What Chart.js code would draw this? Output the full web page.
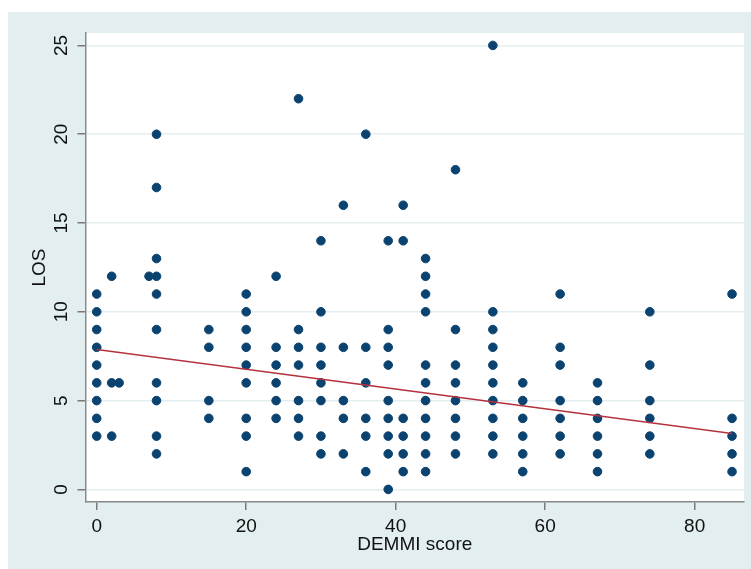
<!DOCTYPE html>
<html>
<head>
<meta charset="utf-8">
<script src="https://cdn.jsdelivr.net/npm/chart.js@4.4.1/dist/chart.umd.min.js"></script>
<style>
  html, body { margin: 0; padding: 0; background: #fff; }
  #wrap { width: 751px; height: 569px; }
</style>
</head>
<body>
<div id="wrap"><canvas id="los"></canvas></div>
<script>
// DEMMI score columns and the LOS values seen in each column
var demmiScores = [0, 2, 3, 7, 8, 15, 20, 24, 27, 30, 33, 36, 39, 41, 44, 48, 53, 57, 62, 67, 74, 85];
var losByScore = [
  [11, 10, 9, 8, 7, 6, 5, 4, 3],
  [12, 6, 3],
  [6],
  [12],
  [20, 17, 13, 12, 11, 9, 6, 5, 3, 2],
  [9, 8, 5, 4],
  [11, 10, 9, 8, 7, 6, 4, 3, 1],
  [12, 8, 7, 6, 5, 4],
  [22, 9, 8, 7, 5, 4, 3],
  [14, 10, 8, 7, 6, 5, 3, 2],
  [16, 8, 5, 4, 2],
  [20, 8, 6, 4, 3, 1],
  [14, 9, 8, 7, 5, 4, 3, 2, 0],
  [16, 14, 4, 3, 2, 1],
  [13, 12, 11, 10, 7, 6, 5, 4, 3, 2, 1],
  [18, 9, 7, 6, 5, 4, 3, 2],
  [25, 10, 9, 8, 7, 6, 5, 4, 3, 2],
  [6, 5, 4, 3, 2, 1],
  [11, 8, 7, 5, 4, 3, 2],
  [6, 5, 4, 3, 2, 1],
  [10, 7, 5, 4, 3, 2],
  [11, 4, 3, 2, 1]
];
// fitted line ends
var fitX = [0, 85];
var fitY = [7.88, 3.15];
var xTicks = [0, 20, 40, 60, 80];
var yTicks = [0, 5, 10, 15, 20, 25];

var points = [];
demmiScores.forEach(function (s, i) {
  losByScore[i].forEach(function (v) { points.push({ x: s, y: v }); });
});
var fitPoints = fitX.map(function (x, i) { return { x: x, y: fitY[i] }; });

var bgPlugin = {
  id: 'stataBg',
  beforeDraw: function (chart) {
    var c = chart.ctx, a = chart.chartArea;
    c.save();
    c.fillStyle = '#ffffff';
    c.fillRect(0, 0, chart.width, chart.height);
    c.fillStyle = '#e2eef0';
    c.fillRect(8, 12, chart.width - 8, chart.height - 12);
    c.fillStyle = '#ffffff';
    c.fillRect(a.left, a.top, a.right - a.left, a.bottom - a.top);
    c.restore();
  }
};

Chart.defaults.font.family = "'Liberation Sans', Arial, sans-serif";
Chart.defaults.color = '#111';

new Chart(document.getElementById('los'), {
  type: 'scatter',
  data: {
    datasets: [{
      type: 'line',
      label: 'Fitted values',
      data: fitPoints,
      borderColor: '#b5323e',
      borderWidth: 1.5,
      pointRadius: 0,
      fill: false
    }, {
      label: 'LOS',
      data: points,
      backgroundColor: '#0b4370',
      borderColor: '#0b4370',
      pointRadius: 4.3,
      pointHoverRadius: 4.3
    }]
  },
  options: {
    responsive: true,
    maintainAspectRatio: false,
    animation: false,
    layout: { padding: { top: 33, right: 7, left: 0, bottom: 0 } },
    plugins: { legend: { display: false }, tooltip: { enabled: false } },
    scales: {
      x: {
        type: 'linear',
        min: -1.5,
        max: 86.6,
        afterBuildTicks: function (s) { s.ticks = xTicks.map(function (v) { return { value: v }; }); },
        afterFit: function (s) { s.height = 67; },
        ticks: { font: { size: 19 }, padding: 5, color: '#111' },
        grid: { drawOnChartArea: false, tickColor: '#7a7a7a', tickLength: 8, lineWidth: 1.5 },
        border: { color: '#8a8a8a', width: 1.5 },
        title: { display: true, text: 'DEMMI score', font: { size: 19 }, color: '#111', padding: { top: 0, bottom: 13 } }
      },
      y: {
        type: 'linear',
        min: -0.71,
        max: 25.7,
        afterBuildTicks: function (s) { s.ticks = yTicks.map(function (v) { return { value: v }; }); },
        afterFit: function (s) { s.width = 85.5; },
        ticks: { font: { size: 19 }, padding: 5, minRotation: 90, maxRotation: 90, crossAlign: 'center', color: '#111' },
        grid: { color: '#e4eef0', lineWidth: 1.5, tickColor: '#7a7a7a', tickLength: 8 },
        border: { color: '#8a8a8a', width: 1.5 },
        title: { display: true, text: 'LOS', font: { size: 19 }, color: '#111', padding: { top: 28, bottom: 0 } }
      }
    }
  },
  plugins: [bgPlugin]
});
</script>
</body>
</html>
